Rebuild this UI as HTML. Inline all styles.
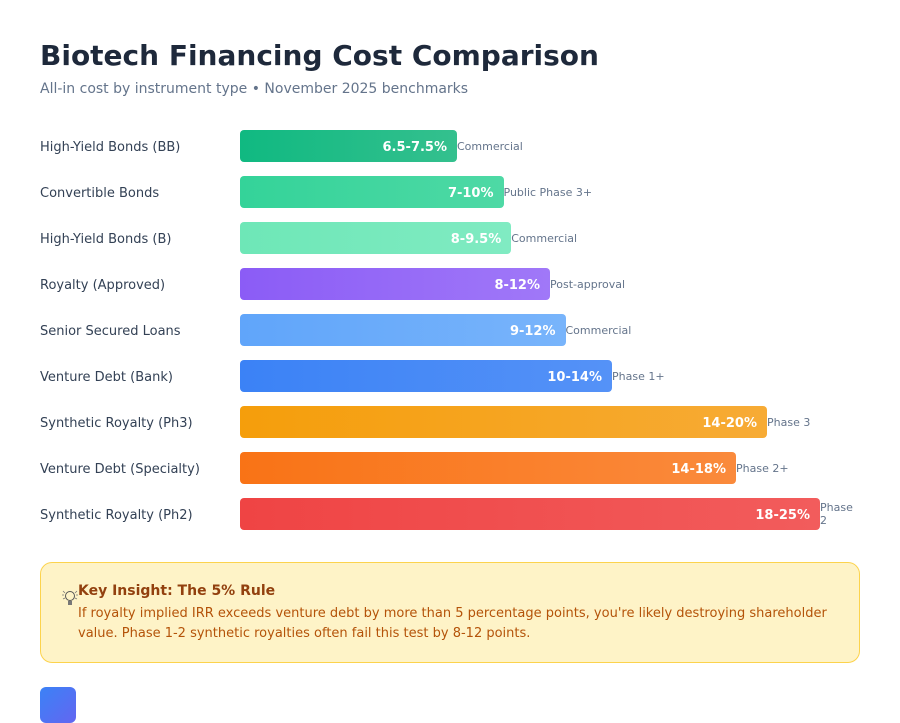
<!DOCTYPE html>
<html><head><meta charset="utf-8"><style>
body{margin:0;width:900px;height:700px;background:#fff;font-family:"DejaVu Sans","Liberation Sans",sans-serif;overflow:hidden;position:relative}
h1{position:absolute;left:40px;top:39px;margin:0;font-size:28px;font-weight:bold;color:#1e293b}
.sub{position:absolute;left:40px;top:81px;font-size:14px;color:#64748b}
.row{position:absolute;left:40px;height:32px;display:flex;align-items:center}
.lab{width:200px;font-size:13px;color:#334155;padding-top:2px}
.bar{height:32px;border-radius:4px;display:flex;align-items:center;justify-content:flex-end;box-sizing:border-box;padding-right:10px;padding-top:2px;color:#fff;font-weight:bold;font-size:13px}
.note{font-size:11px;color:#64748b;line-height:13px}
.box{position:absolute;left:40px;top:562px;width:818px;height:99px;background:#fef3c7;border:1px solid #fcd34d;border-radius:12px}
.box .t{position:absolute;left:37px;top:20px;font-size:14px;font-weight:bold;color:#92400e}
.box .d{position:absolute;left:37px;top:41px;width:770px;font-size:13px;line-height:20px;color:#b45309}
.logo{position:absolute;left:40px;top:687px;width:36px;height:36px;border-radius:6px;background:linear-gradient(135deg,#3b82f6,#6366f1)}
</style></head><body>
<h1>Biotech Financing Cost Comparison</h1>
<div class="sub">All-in cost by instrument type • November 2025 benchmarks</div>
<div id="chart"></div>
<div class="box">
<svg style="position:absolute;left:20px;top:26px" width="18" height="18" viewBox="0 0 18 18"><circle cx="9" cy="7" r="4.5" fill="none" stroke="#555" stroke-width="1"/><rect x="7" y="12" width="4" height="4" fill="#777"/><path d="M1 6h2M15 6h2M2 2l2 2M16 2l-2 2M2 10l2-1M16 10l-2-1" stroke="#777" stroke-width="0.8"/></svg>
<div class="t">Key Insight: The 5% Rule</div>
<div class="d">If royalty implied IRR exceeds venture debt by more than 5 percentage points, you're likely destroying shareholder value. Phase 1-2 synthetic royalties often fail this test by 8-12 points.</div>
</div>
<div class="logo"></div>
<script>
const categories=["High-Yield Bonds (BB)","Convertible Bonds","High-Yield Bonds (B)","Royalty (Approved)","Senior Secured Loans","Venture Debt (Bank)","Synthetic Royalty (Ph3)","Venture Debt (Specialty)","Synthetic Royalty (Ph2)"];
const lows=[6.5,7,8,8,9,10,14,14,18];
const highs=[7.5,10,9.5,12,12,14,20,18,25];
const rangeLabels=["6.5-7.5%","7-10%","8-9.5%","8-12%","9-12%","10-14%","14-20%","14-18%","18-25%"];
const notes=["Commercial","Public Phase 3+","Commercial","Post-approval","Commercial","Phase 1+","Phase 3","Phase 2+","Phase 2"];
const colors=[["#10b981","#34c08e"],["#34d399","#4ed9a5"],["#6ee7b7","#80ebc2"],["#8b5cf6","#a078f8"],["#60a5fa","#78b4fb"],["#3b82f6","#5592f7"],["#f59e0b","#f7ab35"],["#f97316","#fa8a3c"],["#ef4444","#f25c5c"]];
const x=v=>Math.min(580,v*31);
const chart=document.getElementById('chart');
categories.forEach((c,i)=>{
const row=document.createElement('div');row.className='row';row.style.top=(130+i*46)+'px';


const w=x((lows[i]+highs[i])/2);
row.innerHTML='<div class="lab">'+c+'</div><div class="bar" style="width:'+w+'px;background:linear-gradient(90deg,'+colors[i][0]+','+colors[i][1]+')">'+rangeLabels[i]+'</div><div class="note" style="max-width:'+(620-w)+'px">'+notes[i]+'</div>';
chart.appendChild(row);
});
</script>
</body></html>
